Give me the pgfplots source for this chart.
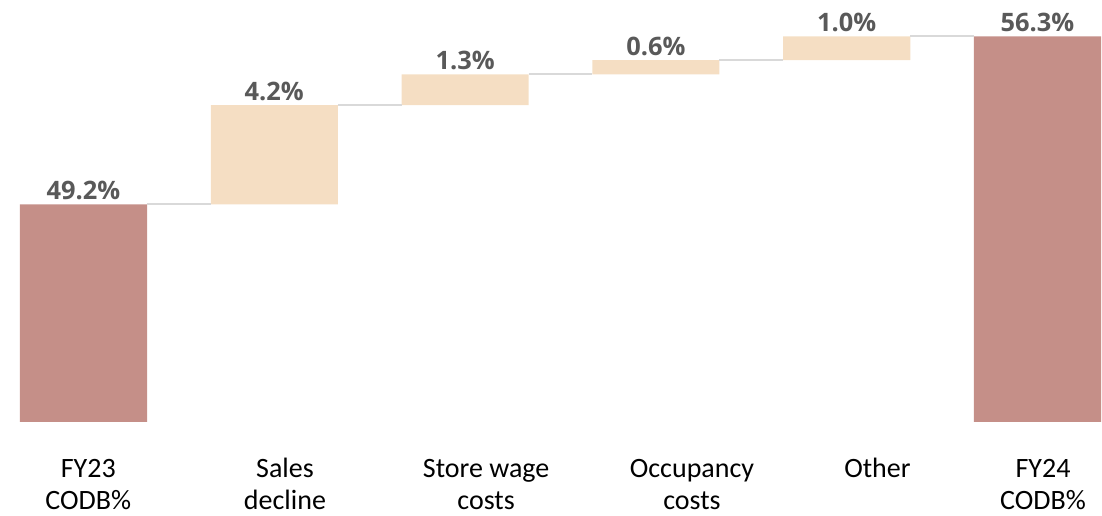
\documentclass[border=0pt]{standalone}
\usepackage{pgfplots}
\pgfplotsset{compat=1.18}
\usepackage{fontspec}
\setmainfont{Carlito}
\newfontfamily\valfont{Open Sans}

\definecolor{totalbar}{HTML}{C58F88}
\definecolor{stepbar}{HTML}{F5DEC3}
\definecolor{linkgray}{HTML}{D9D9D9}
\definecolor{valgray}{HTML}{595959}

\pgfplotsset{
  wfaxis/.style={
    scale only axis,
    width=551pt, height=211pt,
    xmin=-0.4376, xmax=5.338,
    ymin=40, ymax=57.84,
    /pgf/number format/assume math mode=true,
  }
}

\begin{document}
\begin{tikzpicture}
  % bars: invisible base + totals + steps
  \begin{axis}[wfaxis,
    ybar stacked, bar width=0.666,
    axis line style={draw=none},
    ytick=\empty,
    % label boxes sit a little right of the bars, as in the original slide
    xtick={0.025,1.056,2.110,3.189,4.161,5.029},
    xtick style={draw=none},
    xticklabels={{\strut FY23\\CODB\%},{\strut Sales\\decline},{\strut Store wage\\costs},{\strut Occupancy\\costs},{\strut Other},{\strut FY24\\CODB\%}},
    xticklabel style={align=center, anchor=north, inner sep=0pt, yshift=-16.3pt,
      font=\fontsize{14}{16}\selectfont},
  ]
    \addplot[draw=none, fill=none] coordinates {(0,0) (1,49.2) (2,53.4) (3,54.7) (4,55.3) (5,0)};
    \addplot[draw=none, fill=totalbar] coordinates {(0,49.2) (1,0) (2,0) (3,0) (4,0) (5,56.3)};
    \addplot[draw=none, fill=stepbar] coordinates {(0,0) (1,4.2) (2,1.3) (3,0.6) (4,1.0) (5,0)};
  \end{axis}

  % connectors and value labels
  \begin{axis}[wfaxis, hide axis, clip=false]
    % fixes the page to the reference's frame, with a little room below the labels
    \path (rel axis cs:0,1) rectangle ([yshift=-47pt]rel axis cs:1,0);
    \addplot[linkgray, line width=1pt] coordinates {(0.333,49.2) (0.667,49.2)};
    \addplot[linkgray, line width=1pt] coordinates {(1.333,53.4) (1.667,53.4)};
    \addplot[linkgray, line width=1pt] coordinates {(2.333,54.7) (2.667,54.7)};
    \addplot[linkgray, line width=1pt] coordinates {(3.333,55.3) (3.667,55.3)};
    \addplot[linkgray, line width=1pt] coordinates {(4.333,56.3) (4.667,56.3)};
    \addplot[draw=none, mark=none, point meta=explicit,
      nodes near coords={\pgfmathprintnumber[fixed, precision=1, fixed zerofill]{\pgfplotspointmeta}\%},
      nodes near coords style={anchor=south, inner sep=2pt, text=valgray,
        font=\valfont\bfseries\fontsize{12.7}{15}\selectfont},
    ] table[meta=v] {
      x y v
      0 49.2 49.2
      1 53.4 4.2
      2 54.7 1.3
      3 55.3 0.6
      4 56.3 1.0
      5 56.3 56.3
    };
  \end{axis}
\end{tikzpicture}
\end{document}
